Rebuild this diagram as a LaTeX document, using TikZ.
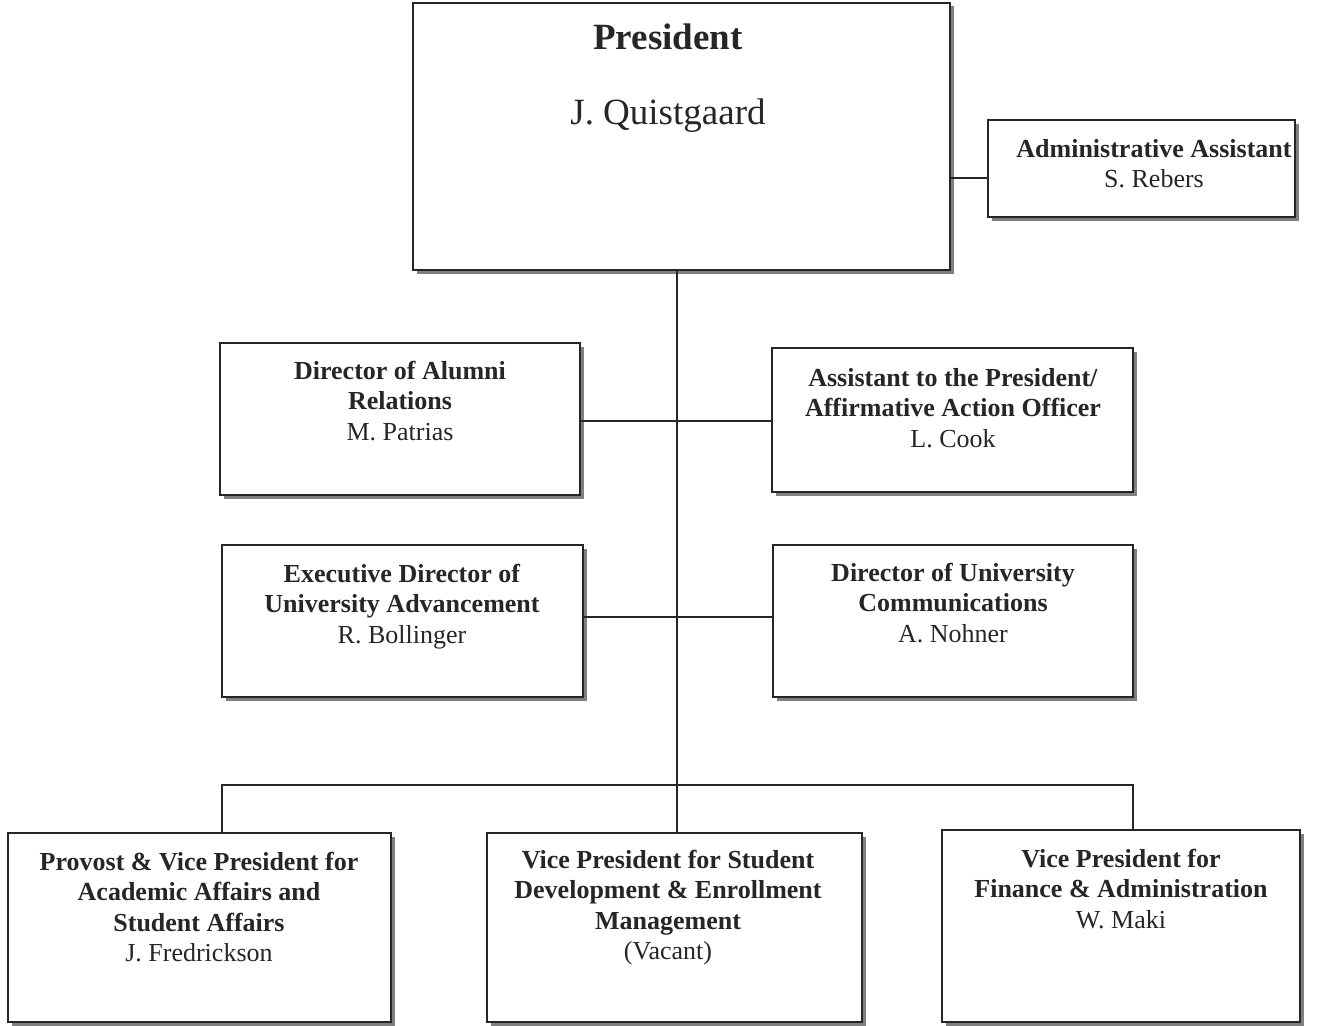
\documentclass[tikz,border=0pt]{standalone}
\usepackage{fontspec}
\setmainfont{Liberation Serif}
\usetikzlibrary{shadows}
\tikzset{
  box/.style={draw=black!85, line width=1.6pt, fill=white, inner sep=0pt,
    drop shadow={shadow xshift=3.5pt, shadow yshift=-3.5pt, fill=black!50, opacity=1}},
  lbl/.style={anchor=base, align=center, inner sep=0pt, font=\fontsize{26}{30.5}\selectfont, text=black!85},
  conn/.style={draw=black!85, line width=1.3pt}
}
\begin{document}
\begin{tikzpicture}[x=1pt,y=1pt]
\useasboundingbox (0,0) rectangle (1322,-1025);
% boxes
\node[box, minimum width=537pt, minimum height=267pt] (pres) at (681.5,-136.5) {};
\node[box, minimum width=307pt, minimum height=97pt] (admin) at (1141.5,-168.5) {};
\node[box, minimum width=360pt, minimum height=152pt] (alum) at (400,-419) {};
\node[box, minimum width=361pt, minimum height=144pt] (asst) at (952.5,-420) {};
\node[box, minimum width=361pt, minimum height=152pt] (exec) at (402.5,-621) {};
\node[box, minimum width=360pt, minimum height=152pt] (comm) at (953,-621) {};
\node[box, minimum width=383pt, minimum height=189pt] (prov) at (199.5,-927.5) {};
\node[box, minimum width=375pt, minimum height=189pt] (vpsd) at (674.5,-927.5) {};
\node[box, minimum width=358pt, minimum height=192pt] (vpfa) at (1121,-926) {};
% connectors
\coordinate (bl) at (222,-785);
\coordinate (br) at (1133,-785);
\draw[conn] (pres.east |- 0,-178) -- (admin.west |- 0,-178);
\draw[conn] (pres.south -| 677,0) -- (vpsd.north -| 677,0);
\draw[conn] (alum.east |- 0,-421) -- (asst.west |- 0,-421);
\draw[conn] (exec.east |- 0,-617) -- (comm.west |- 0,-617);
\draw[conn] (prov.north -| bl) -- (bl) -- (br) -- (vpfa.north -| br);
% texts (anchor base = baseline of last line)
\node[lbl, font=\fontsize{37}{74}\selectfont] (presT) at (668,-124) {\textbf{President}\\J. Quistgaard};
\node[lbl] (adminT) at (1154,-187.5) {\textbf{Administrative Assistant}\\S. Rebers};
\node[lbl] (alumT) at (400,-440) {\textbf{Director of Alumni}\\\textbf{Relations}\\M. Patrias};
\node[lbl] (asstT) at (953,-447) {\textbf{Assistant to the President/}\\\textbf{Affirmative Action Officer}\\L. Cook};
\node[lbl] (execT) at (402,-643) {\textbf{Executive Director of}\\\textbf{University Advancement}\\R. Bollinger};
\node[lbl] (commT) at (953,-642) {\textbf{Director of University}\\\textbf{Communications}\\A. Nohner};
\node[lbl] (provT) at (199,-961.5) {\textbf{Provost \& Vice President for}\\\textbf{Academic Affairs and}\\\textbf{Student Affairs}\\J. Fredrickson};
\node[lbl] (vpsdT) at (668,-959.5) {\textbf{Vice President for Student}\\\textbf{Development \& Enrollment}\\\textbf{Management}\\(Vacant)};
\node[lbl] (vpfaT) at (1121,-928) {\textbf{Vice President for}\\\textbf{Finance \& Administration}\\W. Maki};
\end{tikzpicture}
\end{document}
